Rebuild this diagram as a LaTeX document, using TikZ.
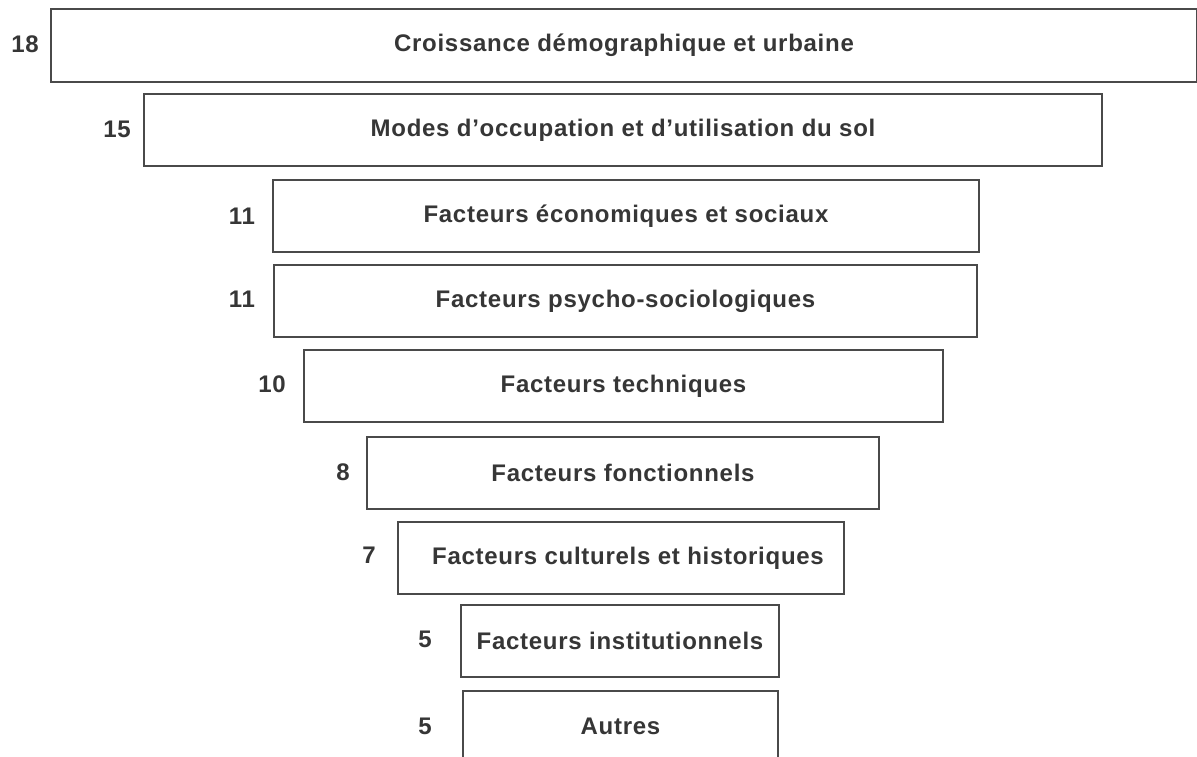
\documentclass[tikz,border=0pt]{standalone}
\usepackage{fontspec}
\setmainfont{Liberation Sans}
\newfontfamily\labfont{Liberation Sans}[LetterSpace=3.0]
\definecolor{ink}{HTML}{363636}
\definecolor{edge}{HTML}{4A4A4A}
\begin{document}
\begin{tikzpicture}[x=1pt,y=-1pt,
  box/.style={draw=edge, line width=2pt, rectangle, inner sep=0pt, anchor=north west,
    font=\labfont\fontsize{24}{27}\selectfont\bfseries, text=ink},
  num/.style={font=\labfont\fontsize{24}{27}\selectfont\bfseries, text=ink, inner sep=0pt}]
\useasboundingbox (0,0) rectangle (1197,757);
\clip (0,0) rectangle (1197,757);
\fill[white] (0,0) rectangle (1197,757);
\node[box, minimum width=1146pt, minimum height=73pt] (b1) at (50,8) {Croissance démographique et urbaine};
\node[box, minimum width=958pt, minimum height=72pt] (b2) at (143,93) {Modes d’occupation et d’utilisation du sol};
\node[box, minimum width=706pt, minimum height=72pt] (b3) at (272,179) {Facteurs économiques et sociaux};
\node[box, minimum width=703pt, minimum height=72pt, text depth=4pt] (b4) at (273,264) {Facteurs psycho-sociologiques};
\node[box, minimum width=639pt, minimum height=72pt] (b5) at (303,349) {Facteurs techniques};
\node[box, minimum width=512pt, minimum height=72pt] (b6) at (366,436) {Facteurs fonctionnels};
\node[box, minimum width=446pt, minimum height=72pt] (b7) at (397,521) {\hspace{14pt}Facteurs culturels et historiques};
\node[box, minimum width=318pt, minimum height=72pt] (b8) at (460,604) {Facteurs institutionnels};
\node[box, minimum width=315pt, minimum height=70pt] (b9) at (462,690) {Autres};
\node[num] (n1) at (25,44) {18};
\node[num] (n2) at (117,129) {15};
\node[num] (n3) at (242,216) {11};
\node[num] (n4) at (242,299) {11};
\node[num] (n5) at (272,384) {10};
\node[num] (n6) at (343,472) {8};
\node[num] (n7) at (369,555) {7};
\node[num] (n8) at (425,639) {5};
\node[num] (n9) at (425,726) {5};
\end{tikzpicture}
\end{document}
